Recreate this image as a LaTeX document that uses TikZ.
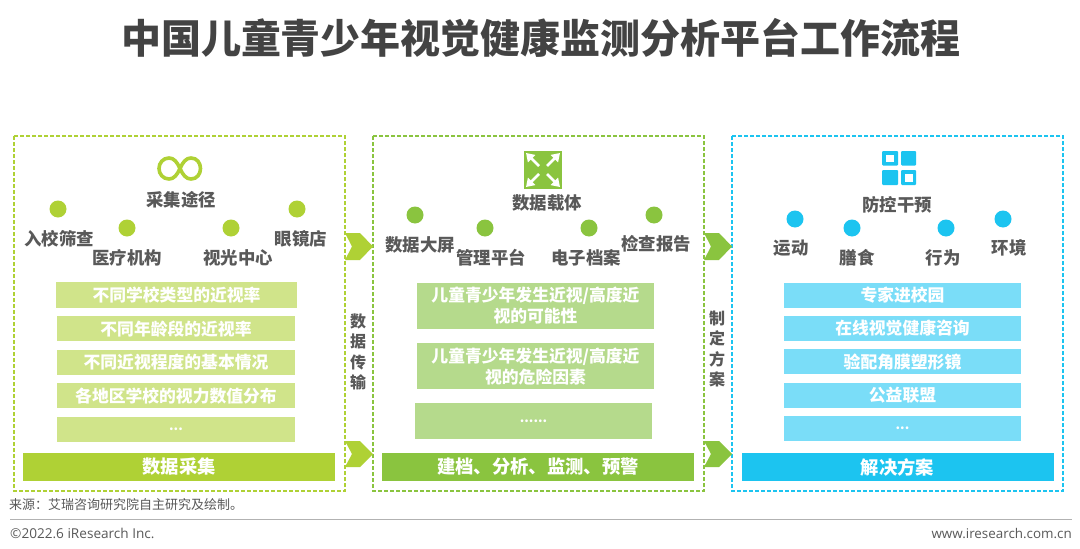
\documentclass[tikz,border=0pt]{standalone}
\usepackage{xcolor}
\usepackage{fontspec}
\setmainfont{Noto Sans CJK SC}
\newfontfamily\latinfont{Open Sans}
\usetikzlibrary{arrows.meta, positioning}

\definecolor{limeC}{HTML}{AFD135}
\definecolor{limeL}{HTML}{D0E48A}
\definecolor{greenC}{HTML}{8AC43F}
\definecolor{greenL}{HTML}{B5DA8C}
\definecolor{blueC}{HTML}{1CC4F0}
\definecolor{blueL}{HTML}{7ADDF8}
\definecolor{textC}{HTML}{595959}

\begin{document}
\begin{tikzpicture}[
    x=1pt, y=-1pt,
    node distance=8pt,
    panel/.style={draw, dashed, dash pattern=on 4pt off 2pt, line width=1.2pt},
    bar/.style={rectangle, minimum width=238pt, minimum height=25pt, inner sep=0pt, align=center, text=white, font=\fontsize{16.8}{21}\selectfont\bfseries},
    dots/.style={font=\fontsize{13}{21}\selectfont\bfseries},
    footbar/.style={rectangle, minimum width=312pt, minimum height=28pt, inner sep=0pt, text=white, font=\fontsize{18.3}{20}\selectfont\bfseries},
    dot/.style={circle, minimum size=17pt, inner sep=0pt},
    label/.style={inner sep=0pt, yshift=-0.8pt, text=textC, font=\fontsize{17.4}{20}\selectfont\bfseries},
    side/.style={inner sep=0pt, align=center, text=textC, font=\fontsize{16}{20.5}\selectfont\bfseries},
    note/.style={inner sep=0pt, text=textC},
]
\useasboundingbox (0,0) rectangle (1080,549);
\fill[white] (0,0) rectangle (1080,549);

\node[inner sep=0pt, text=textC!75!black, font=\fontsize{40}{44}\selectfont\bfseries] (title) at (541,38) {中国儿童青少年视觉健康监测分析平台工作流程};

% panels
\draw[panel, limeC] (14,136) rectangle (345,491);
\draw[panel, greenC] (373,136) rectangle (704,491);
\draw[panel, blueC] (732,136) rectangle (1063,491);

% chevrons
\fill[limeC] (345,233) -- (360,233) -- (373,246.5) -- (360,260) -- (345,260) -- (352,246.5) -- cycle;
\fill[limeC] (345,441) -- (360,441) -- (373,454) -- (360,467) -- (345,467) -- (352,454) -- cycle;
\fill[greenC] (704,233) -- (719,233) -- (732,246.5) -- (719,260) -- (704,260) -- (711,246.5) -- cycle;
\fill[greenC] (704,441) -- (719,441) -- (732,454) -- (719,467) -- (704,467) -- (711,454) -- cycle;

\node[side] (transfer) at (358,352) {数\\据\\传\\输};
\node[side] (plan) at (717,349) {制\\定\\方\\案};

% first panel
\draw[limeC, line width=3.6pt] (180,168.5) .. controls (183,162) and (186,158) .. (191,158) .. controls (197,158) and (200.5,163) .. (200.5,168.5) .. controls (200.5,174) and (197,179) .. (191,179) .. controls (186,179) and (183,175) .. (180,168.5) .. controls (177,162) and (174,158) .. (169,158) .. controls (163,158) and (159,163) .. (159,168.5) .. controls (159,174) and (163,179) .. (169,179) .. controls (174,179) and (177,175) .. (180,168.5) -- cycle;
\node[label] (collect) at (181,199) {采集途径};
\node[dot, fill=limeC] (d11) at (58,209) {};
\node[dot, fill=limeC] (d12) at (127,228) {};
\node[dot, fill=limeC] (d13) at (231,228) {};
\node[dot, fill=limeC] (d14) at (297,209) {};
\node[label] (l11) at (59,238) {入校筛查};
\node[label] (l12) at (127,257) {医疗机构};
\node[label] (l13) at (238,257) {视光中心};
\node[label] (l14) at (301,238) {眼镜店};
\node[bar, fill=limeL, minimum width=241pt, minimum height=26pt] (b11) at (176.5,295) {不同学校类型的近视率};
\node[bar, fill=limeL, xshift=-0.5pt, below=8pt of b11] (b12) {不同年龄段的近视率};
\node[bar, fill=limeL, below=of b12] (b13) {不同近视程度的基本情况};
\node[bar, fill=limeL, below=of b13] (b14) {各地区学校的视力数值分布};
\node[bar, dots, fill=limeL, below=of b14] (b15) {...};
\node[footbar, fill=limeC] (f1) at (179,467) {数据采集};

% second panel
\fill[greenC] (524,151) rectangle (562,189);
\foreach \sx/\sy in {1/1, 1/-1, -1/1, -1/-1}
  \draw[white, line width=2.8pt, -{Triangle[length=8pt, width=10pt]}] (543+4*\sx,170+4*\sy) -- (543+17*\sx,170+17*\sy);
\node[label] (carrier) at (547,202) {数据载体};
\node[dot, fill=greenC] (d21) at (415,215) {};
\node[dot, fill=greenC] (d22) at (485,228) {};
\node[dot, fill=greenC] (d23) at (589,228) {};
\node[dot, fill=greenC] (d24) at (654,215) {};
\node[label] (l21) at (420,244) {数据大屏};
\node[label] (l22) at (491,257) {管理平台};
\node[label] (l23) at (586,257) {电子档案};
\node[label] (l24) at (656,243) {检查报告};
\node[bar, fill=greenL, minimum width=237pt, minimum height=46pt] (b21) at (535.5,306) {儿童青少年发生近视/高度近\\视的可能性};
\node[bar, fill=greenL, minimum width=237pt, minimum height=46pt, below=14pt of b21] (b22) {儿童青少年发生近视/高度近\\视的危险因素};
\node[bar, dots, fill=greenL, minimum width=237pt, minimum height=36pt] (b23) at (533.5,421) {......};
\node[footbar, fill=greenC] (f2) at (538,467) {建档、分析、监测、预警};

% third panel
\fill[blueC, rounded corners=1pt] (882,151) rectangle (898,165.5);
\fill[blueC, rounded corners=1pt] (901,151) rectangle (916,165.5);
\fill[blueC, rounded corners=1pt] (882,170) rectangle (898,185);
\fill[blueC, rounded corners=1pt] (901,170) rectangle (916,185);
\fill[white] (885.5,155) rectangle (894,162);
\fill[white] (904.5,174) rectangle (913,181.5);
\node[label] (control) at (897,204) {防控干预};
\node[dot, fill=blueC] (d31) at (795,219) {};
\node[dot, fill=blueC] (d32) at (852,228) {};
\node[dot, fill=blueC] (d33) at (946,228) {};
\node[dot, fill=blueC] (d34) at (1003,219) {};
\node[label] (l31) at (791,247) {运动};
\node[label] (l32) at (857,257) {膳食};
\node[label] (l33) at (943,257) {行为};
\node[label] (l34) at (1009,247) {环境};
\node[bar, fill=blueL, minimum width=237pt] (b31) at (902.5,295) {专家进校园};
\node[bar, fill=blueL, minimum width=237pt, below=of b31] (b32) {在线视觉健康咨询};
\node[bar, fill=blueL, minimum width=237pt, below=of b32] (b33) {验配角膜塑形镜};
\node[bar, fill=blueL, minimum width=237pt, below=of b33] (b34) {公益联盟};
\node[bar, dots, fill=blueL, minimum width=237pt, below=of b34] (b35) {...};
\node[footbar, fill=blueC] (f3) at (897.5,467) {解决方案};

% footer
\node[note, anchor=west, font=\fontsize{13}{15}\selectfont] (source) at (9,505) {来源^^^^ff1a艾瑞咨询研究院自主研究及绘制。};
\draw[black!30, line width=1pt] (10,519) -- (1072,519);
\node[note, anchor=west, font=\fontsize{13.6}{15}\selectfont\latinfont] (copy) at (10,533) {©2022.6 iResearch Inc.};
\node[note, anchor=east, font=\fontsize{13.4}{15}\selectfont\latinfont] (site) at (1072,533) {www.iresearch.com.cn};
\end{tikzpicture}
\end{document}
